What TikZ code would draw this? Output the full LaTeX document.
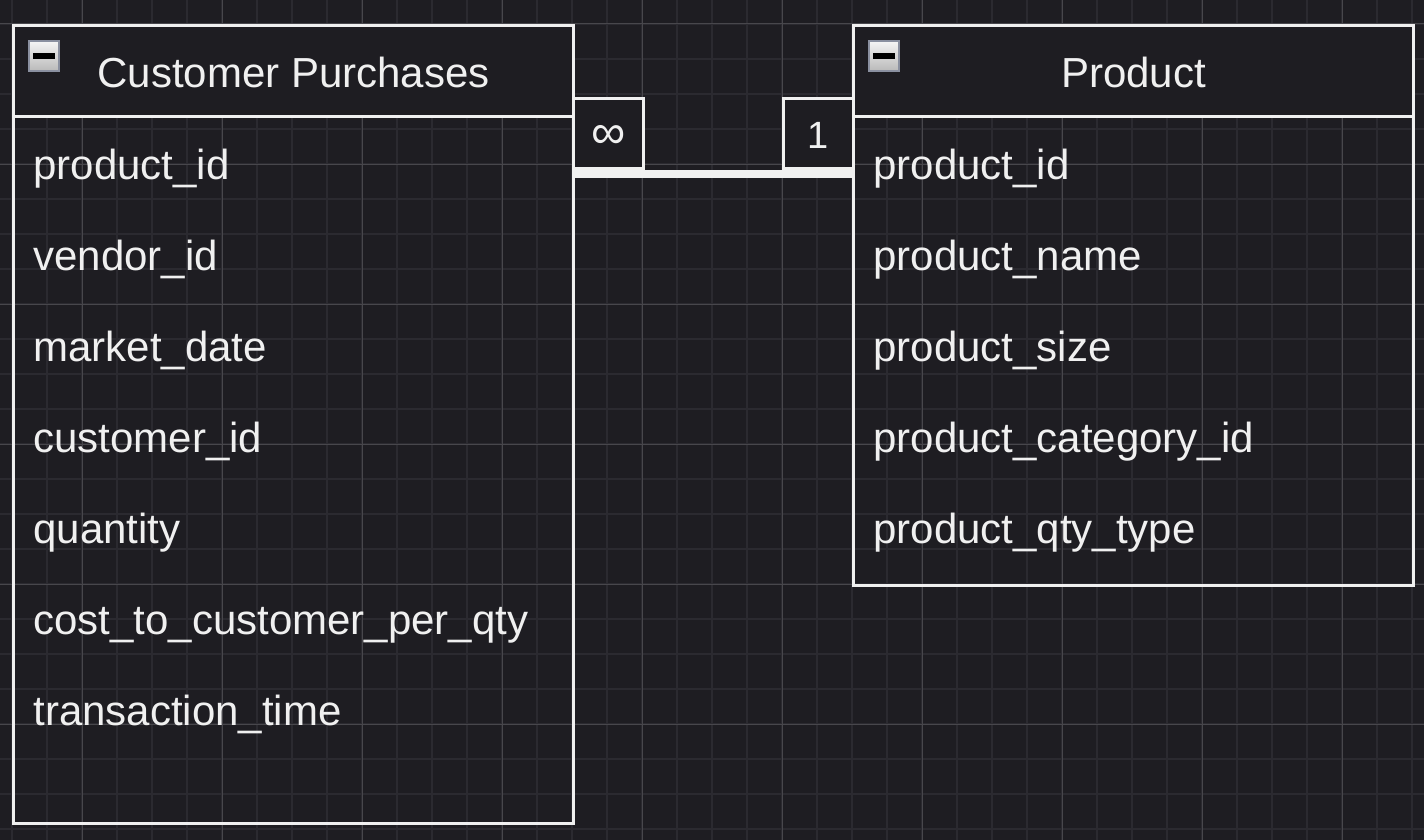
\documentclass[tikz,border=0pt]{standalone}
\usepackage{fontspec}
\setmainfont{Liberation Sans}
\usetikzlibrary{positioning}
\definecolor{canvas}{RGB}{30,29,34}
\definecolor{gridminor}{RGB}{43,42,48}
\definecolor{gridmajor}{RGB}{72,71,76}
\definecolor{ink}{RGB}{240,240,240}
\definecolor{togglerim}{RGB}{138,144,160}

\begin{document}
\begin{tikzpicture}[x=0.5pt,y=-0.5pt,
	tablebox/.style={draw=ink,line width=1.5pt,minimum width=280pt,anchor=north west,inner sep=0pt},
	headbox/.style={tablebox,fill=canvas,minimum height=45.5pt,text height=17pt,text depth=0pt,text=ink,font=\fontsize{21}{25}\selectfont},
	field/.style={anchor=base west,inner sep=0pt,text=ink,font=\fontsize{21}{25}\selectfont},
	togglebox/.style={draw=togglerim,line width=1pt,top color=white!92!gray,bottom color=gray!55,minimum size=15pt,inner sep=0pt,
		path picture={\fill[black] ([xshift=-5.5pt,yshift=-1.4pt]path picture bounding box.center) rectangle ([xshift=5.5pt,yshift=1.4pt]path picture bounding box.center);}},
	cardbox/.style={draw=ink,line width=1.5pt,fill=canvas,minimum size=35pt,inner sep=0pt,anchor=north west,text height=15pt,text depth=0pt,text=ink,font=\fontsize{19}{22}\selectfont},
	relation/.style={draw=ink,line width=4pt}]
	\useasboundingbox (0,0) rectangle (1424,840);
	\fill[canvas] (0,0) rectangle (1424,840);
	% grid
	\foreach \gx in {12,47,...,1412} \draw[gridminor,line width=0.8pt] (\gx,0) -- (\gx,840);
	\foreach \gy in {24,59,...,829} \draw[gridminor,line width=0.8pt] (0,\gy) -- (1424,\gy);
	\foreach \gx in {82,222,...,1342} \draw[gridmajor,line width=0.5pt] (\gx,0) -- (\gx,840);
	\foreach \gy in {24,164,...,724} \draw[gridmajor,line width=0.5pt] (0,\gy) -- (1424,\gy);

	% tables
	\node[tablebox,minimum height=399pt] (purchases) at (12,24) {};
	\node[headbox] (purchases-head) at (purchases.north west) {Customer Purchases};
	\node[togglebox] (purchases-toggle) at (44,56) {};
	\foreach \name [count=\i] in {product\_id,vendor\_id,market\_date,customer\_id,quantity,cost\_to\_customer\_per\_qty,transaction\_time}
		\node[field] (purchases-\i) at (33,88+91*\i) {\name};

	\node[tablebox,minimum height=280pt] (product) at (852,24) {};
	\node[headbox] (product-head) at (product.north west) {Product};
	\node[togglebox] (product-toggle) at (884,56) {};
	\foreach \name [count=\i] in {product\_id,product\_name,product\_size,product\_category\_id,product\_qty\_type}
		\node[field] (product-\i) at (873,88+91*\i) {\name};

	% relation
	\node[cardbox,font=\fontsize{24}{28}\selectfont] (many) at (572,97) {∞};
	\node[cardbox] (one) at (782,97) {1};
	\draw[relation] ([yshift=-2pt]many.south west) -- ([yshift=-2pt]one.south east);
\end{tikzpicture}
\end{document}
